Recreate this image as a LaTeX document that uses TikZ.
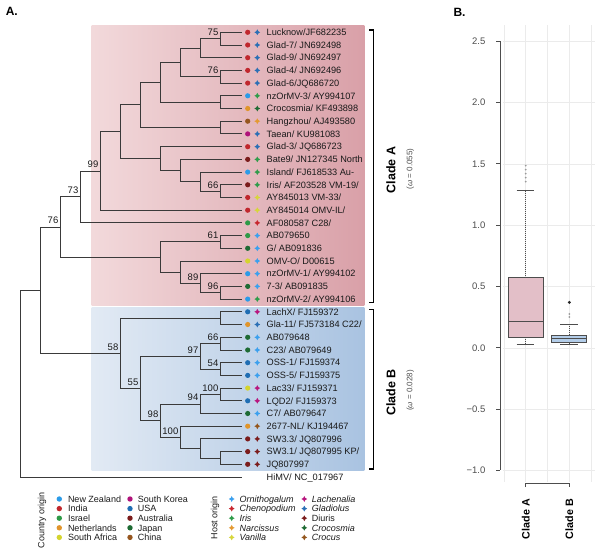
\documentclass[tikz,border=0pt]{standalone}
\usepackage{fontspec}
\setmainfont{Liberation Sans}
\usetikzlibrary{calc}
% country colours
\definecolor{cNZ}{HTML}{2B9BE8}
\definecolor{cIN}{HTML}{C0272D}
\definecolor{cIL}{HTML}{2E9A47}
\definecolor{cNL}{HTML}{E0952C}
\definecolor{cZA}{HTML}{D4D42E}
\definecolor{cKR}{HTML}{B0137A}
\definecolor{cUS}{HTML}{1F6DB3}
\definecolor{cAU}{HTML}{7B1C1C}
\definecolor{cJP}{HTML}{1E6B34}
\definecolor{cCN}{HTML}{96561F}
% host colours
\definecolor{hOR}{HTML}{3BA0EE}
\definecolor{hCH}{HTML}{C8262E}
\definecolor{hIR}{HTML}{2F9C4A}
\definecolor{hNA}{HTML}{E49A33}
\definecolor{hVA}{HTML}{D6D63A}
\definecolor{hLA}{HTML}{B8167E}
\definecolor{hGL}{HTML}{2A6FB5}
\definecolor{hDI}{HTML}{7B1C1C}
\definecolor{hCR}{HTML}{1F6B34}
\definecolor{hCU}{HTML}{93561D}
% others
\definecolor{treegray}{HTML}{3A3A3A}
\definecolor{pinkL}{HTML}{F2D9DB}
\definecolor{pinkR}{HTML}{D9A0A8}
\definecolor{blueL}{HTML}{E2EAF4}
\definecolor{blueR}{HTML}{A9C3E1}
\definecolor{gridc}{HTML}{EBEBEB}
\definecolor{axisc}{HTML}{4D4D4D}
\definecolor{boxA}{HTML}{E3BFC8}
\definecolor{boxB}{HTML}{B3CDE9}
\definecolor{txt}{HTML}{1A1A1A}

\tikzset{
  branch/.style={draw=treegray, line width=0.9pt},
  tiplabel/.style={anchor=west, inner sep=0pt, text height=6.6pt, text depth=0pt,
    font=\fontsize{9.2}{11}\selectfont, text=txt},
  bs/.style={anchor=south east, inner sep=0pt, text height=6.8pt, text depth=0pt,
    font=\fontsize{9.5}{11}\selectfont, text=txt, xshift=-2pt, yshift=2.8pt},
  legtext/.style={anchor=west, inner sep=0pt, text height=6.4pt, text depth=0pt,
    font=\fontsize{9}{10}\selectfont, text=txt},
  hoststar/.pic={\path[pic actions] (0,-2.9) -- (1.05,-1.05) -- (2.9,0) -- (1.05,1.05)
    -- (0,2.9) -- (-1.05,1.05) -- (-2.9,0) -- (-1.05,-1.05) -- cycle;},
  gridline/.style={draw=gridc, line width=0.5pt},
  boxline/.style={draw=axisc, line width=0.8pt},
  whisk/.style={draw=axisc, line width=0.6pt, dash pattern=on 1pt off 1pt},
  bracket/.style={draw=black, line width=1.2pt},
}

\newcommand\tipat[5]{%
  \coordinate (e#1) at (241.5,#2);
  \fill[#4] (247.7,#2) circle[radius=2.6pt];
  \pic[fill=#5] at (257.3,#2) {hoststar};
  \node[tiplabel] (t#1) at (266.5,#2) {#3};
}

\begin{document}
\begin{tikzpicture}[x=1pt,y=-1pt]
\useasboundingbox (0,0) rectangle (600,553);

% panel letters
\node[font=\bfseries\fontsize{12}{14}\selectfont, inner sep=0pt] (pA) at (11.8,11.7) {A.};
\node[font=\bfseries\fontsize{12}{14}\selectfont, inner sep=0pt] (pB) at (459.5,12) {B.};

% clade backgrounds
\shade[left color=pinkL, right color=pinkR] (91.7,25.7) rectangle (364.3,305.3);
\shade[left color=blueL, right color=blueR] (91.7,308) rectangle (364.3,470.5);

% tips
\tipat{1}{32.3}{Lucknow/JF682235}{cIN}{hGL}
\tipat{2}{45.0}{Glad-7/ JN692498}{cIN}{hGL}
\tipat{3}{57.7}{Glad-9/ JN692497}{cIN}{hGL}
\tipat{4}{70.4}{Glad-4/ JN692496}{cIN}{hGL}
\tipat{5}{83.1}{Glad-6/JQ686720}{cIN}{hGL}
\tipat{6}{95.8}{nzOrMV-3/ AY994107}{cNZ}{hIR}
\tipat{7}{108.5}{Crocosmia/ KF493898}{cNL}{hCR}
\tipat{8}{121.2}{Hangzhou/ AJ493580}{cCN}{hNA}
\tipat{9}{133.9}{Taean/ KU981083}{cKR}{hGL}
\tipat{10}{146.7}{Glad-3/ JQ686723}{cIN}{hGL}
\tipat{11}{159.4}{Bate9/ JN127345 North}{cAU}{hIR}
\tipat{12}{172.1}{Island/ FJ618533 Au-}{cNZ}{hIR}
\tipat{13}{184.8}{Iris/ AF203528 VM-19/}{cAU}{hIR}
\tipat{14}{197.5}{AY845013 VM-33/}{cIN}{hVA}
\tipat{15}{210.2}{AY845014 OMV-IL/}{cIN}{hVA}
\tipat{16}{222.9}{AF080587 C28/}{cIL}{hCH}
\tipat{17}{235.6}{AB079650}{cIL}{hOR}
\tipat{18}{248.3}{G/ AB091836}{cJP}{hOR}
\tipat{19}{261.0}{OMV-O/ D00615}{cZA}{hOR}
\tipat{20}{273.7}{nzOrMV-1/ AY994102}{cNZ}{hOR}
\tipat{21}{286.4}{7-3/ AB091835}{cJP}{hOR}
\tipat{22}{299.1}{nzOrMV-2/ AY994106}{cNZ}{hIR}
\tipat{23}{311.8}{LachX/ FJ159372}{cUS}{hLA}
\tipat{24}{324.5}{Gla-11/ FJ573184 C22/}{cNL}{hGL}
\tipat{25}{337.3}{AB079648}{cJP}{hOR}
\tipat{26}{350.0}{C23/ AB079649}{cJP}{hOR}
\tipat{27}{362.7}{OSS-1/ FJ159374}{cUS}{hOR}
\tipat{28}{375.4}{OSS-5/ FJ159375}{cUS}{hOR}
\tipat{29}{388.1}{Lac33/ FJ159371}{cZA}{hLA}
\tipat{30}{400.8}{LQD2/ FJ159373}{cUS}{hLA}
\tipat{31}{413.5}{C7/ AB079647}{cJP}{hOR}
\tipat{32}{426.2}{2677-NL/ KJ194467}{cNL}{hCU}
\tipat{33}{438.9}{SW3.3/ JQ807996}{cAU}{hDI}
\tipat{34}{451.6}{SW3.1/ JQ807995 KP/}{cAU}{hDI}
\tipat{35}{464.3}{JQ807997}{cAU}{hDI}
\coordinate (e36) at (241.5,477.5);
\node[tiplabel] (t36) at (266.5,477.5) {HiMV/ NC\_017967};

% internal nodes, clade A
\coordinate (a75) at (220.5,38.65);
\coordinate (a9) at (200.5,48.18);
\coordinate (a76) at (220.5,76.75);
\coordinate (a8) at (180.5,62.46);
\coordinate (a67) at (220.5,102.15);
\coordinate (a7) at (160.5,82.3);
\coordinate (a89) at (220.5,127.55);
\coordinate (a6) at (140.5,104.93);
\coordinate (a66) at (220.5,191.15);
\coordinate (a9b) at (200.5,181.63);
\coordinate (a8b) at (180.5,170.5);
\coordinate (a7b) at (160.5,158.6);
\coordinate (a5) at (120.5,131.77);
\coordinate (a4) at (100.5,170.98);
\coordinate (a3) at (80.5,196.94);
\coordinate (a61) at (220.5,241.95);
\coordinate (a96) at (220.5,292.75);
\coordinate (a89c) at (200.5,283.2);
\coordinate (a8c) at (180.5,272.1);
\coordinate (a7c) at (160.5,257.0);
\coordinate (a2) at (60.5,226.97);
% clade B
\coordinate (b1) at (220.5,318.15);
\coordinate (b66) at (220.5,343.65);
\coordinate (b54) at (220.5,369.05);
\coordinate (b97) at (200.5,356.35);
\coordinate (b100a) at (220.5,394.45);
\coordinate (b94) at (200.5,403.98);
\coordinate (b12) at (220.5,457.95);
\coordinate (b9) at (200.5,448.43);
\coordinate (b100) at (180.5,437.3);
\coordinate (b98) at (160.5,420.64);
\coordinate (b55) at (140.5,388.5);
\coordinate (b58) at (120.5,353.3);
% root
\coordinate (r1) at (40.5,290.1);
\coordinate (r0) at (20.5,383.8);

% branches
\foreach \p/\c in {a75/e1,a75/e2,a9/a75,a9/e3,a76/e4,a76/e5,a8/a9,a8/a76,
  a67/e6,a67/e7,a7/a8,a7/a67,a89/e8,a89/e9,a6/a7,a6/a89,a66/e13,a66/e14,
  a9b/e12,a9b/a66,a8b/e11,a8b/a9b,a7b/e10,a7b/a8b,a5/a6,a5/a7b,a4/a5,a4/e15,
  a3/a4,a3/e16,a61/e17,a61/e18,a96/e21,a96/e22,a89c/e20,a89c/a96,a8c/e19,
  a8c/a89c,a7c/a61,a7c/a8c,a2/a3,a2/a7c,
  b1/e23,b1/e24,b66/e25,b66/e26,b54/e27,b54/e28,b97/b66,b97/b54,
  b100a/e29,b100a/e30,b94/b100a,b94/e31,b12/e34,b12/e35,b9/e33,b9/b12,
  b100/e32,b100/b9,b98/b94,b98/b100,b55/b97,b55/b98,b58/b1,b58/b55,
  r1/a2,r1/b58,r0/r1,r0/e36}
  \draw[branch] (\p) |- (\c);

% bootstrap values
\foreach \n/\v in {a75/75,a76/76,a66/66,a4/99,a3/73,a2/76,a61/61,a89c/89,a96/96,
  b58/58,b66/66,b97/97,b54/54,b55/55,b100a/100,b94/94,b98/98,b100/100}
  \node[bs] (bs\n) at (\n) {\v};

% clade brackets
\draw[bracket] (369,30) -- (373.8,30) -- (373.8,302.7) -- (369,302.7);
\draw[bracket] (369,309.5) -- (373.8,309.5) -- (373.8,469) -- (369,469);
\node[rotate=90, inner sep=0pt, font=\bfseries\fontsize{12.5}{14}\selectfont] (cA) at (391,170) {Clade A};
\node[rotate=90, inner sep=0pt, font=\fontsize{8}{9}\selectfont, text=axisc] (wA) at (410.3,169) {(\textit{ω} = 0.055)};
\node[rotate=90, inner sep=0pt, font=\bfseries\fontsize{12.5}{14}\selectfont] (cB) at (391,392.5) {Clade B};
\node[rotate=90, inner sep=0pt, font=\fontsize{8}{9}\selectfont, text=axisc] (wB) at (410.3,390.5) {(\textit{ω} = 0.028)};

% legend: country
\node[rotate=90, inner sep=0pt, font=\fontsize{9}{10}\selectfont, text=txt] (lgC) at (42,520) {Country origin};
\foreach \lab/\col [count=\k from 0] in {New Zealand/cNZ,India/cIN,Israel/cIL,Netherlands/cNL,South Africa/cZA}{
  \fill[\col] (59.3,499+9.6*\k) circle[radius=2.7pt];
  \node[legtext] (lc\k) at (67.8,499+9.6*\k) {\lab};
}
\foreach \lab/\col [count=\k from 0] in {South Korea/cKR,USA/cUS,Australia/cAU,Japan/cJP,China/cCN}{
  \fill[\col] (130,499+9.6*\k) circle[radius=2.7pt];
  \node[legtext] (ld\k) at (137.7,499+9.6*\k) {\lab};
}
% legend: host
\node[rotate=90, inner sep=0pt, font=\fontsize{9}{10}\selectfont, text=txt] (lgH) at (215,517.5) {Host origin};
\foreach \lab/\col [count=\k from 0] in {\textit{Ornithogalum}/hOR,\textit{Chenopodium}/hCH,\textit{Iris}/hIR,\textit{Narcissus}/hNA,\textit{Vanilla}/hVA}{
  \pic[fill=\col] at (231.7,499+9.6*\k) {hoststar};
  \node[legtext] (lh\k) at (239.3,499+9.6*\k) {\lab};
}
\foreach \lab/\col [count=\k from 0] in {\textit{Lachenalia}/hLA,\textit{Gladiolus}/hGL,Diuris/hDI,\textit{Crocosmia}/hCR,\textit{Crocus}/hCU}{
  \pic[fill=\col] at (304.3,499+9.6*\k) {hoststar};
  \node[legtext] (li\k) at (311.7,499+9.6*\k) {\lab};
}

% ---------- panel B: boxplot ----------
\foreach \yy in {41.3,102.6,163.9,225.2,286.5,347.8,409.1,470.4}
  \draw[gridline] (503,\yy) -- (595,\yy);
\foreach \xx in {503.9,525.7,547.5,569.3,591.1}
  \draw[gridline] (\xx,25) -- (\xx,482);
\draw[axisc, line width=0.8pt] (500,41.3) -- (500,470.4);
\foreach \yy/\lab [count=\k] in {41.3/2.5,102.6/2.0,163.9/1.5,225.2/1.0,286.5/0.5,347.8/0.0,409.1/−0.5,470.4/−1.0}{
  \draw[axisc, line width=0.8pt] (496,\yy) -- (500,\yy);
  \node[anchor=east, inner sep=0pt, text height=6.8pt, text depth=0pt, font=\fontsize{9.5}{11}\selectfont, text=axisc] (yt\k) at (485.5,\yy) {\lab};
}
% box A
\draw[whisk] (525.7,277.9) -- (525.7,190.3);
\draw[whisk] (525.7,337.4) -- (525.7,344.4);
\draw[boxline] (516.7,190.3) -- (534.3,190.3);
\draw[boxline] (516.7,344.4) -- (534.3,344.4);
\draw[boxline, fill=boxA] (508.3,277.9) rectangle (543,337.4);
\draw[boxline] (508.3,321.7) -- (543,321.7);
\foreach \yy in {165.7,169.7,173.7,177.7,181.7}
  \fill[gray!80] (525.7,\yy) circle[radius=1pt];
% box B
\draw[whisk] (569.3,335) -- (569.3,324.5);
\draw[whisk] (569.3,342.7) -- (569.3,344.1);
\draw[boxline] (560,324.5) -- (578.3,324.5);
\draw[boxline] (560,344.1) -- (578.3,344.1);
\draw[boxline, fill=boxB] (551,335) rectangle (586.7,342.7);
\draw[boxline] (551,338.2) -- (586.7,338.2);
\fill[gray!80] (569.3,314) circle[radius=1pt];
\fill[gray!80] (569.3,317) circle[radius=1pt];
\fill[black!85] (569.3,302.4) circle[radius=1.6pt];
% x axis
\draw[axisc, line width=1pt] (525.7,487) -- (525.7,483.3) -- (569.3,483.3) -- (569.3,487);
\node[rotate=90, anchor=east, inner sep=0pt, font=\bfseries\fontsize{10.7}{12}\selectfont] (xA) at (525.7,499) {Clade A};
\node[rotate=90, anchor=east, inner sep=0pt, font=\bfseries\fontsize{10.7}{12}\selectfont] (xB) at (569.3,499) {Clade B};
\end{tikzpicture}
\end{document}
